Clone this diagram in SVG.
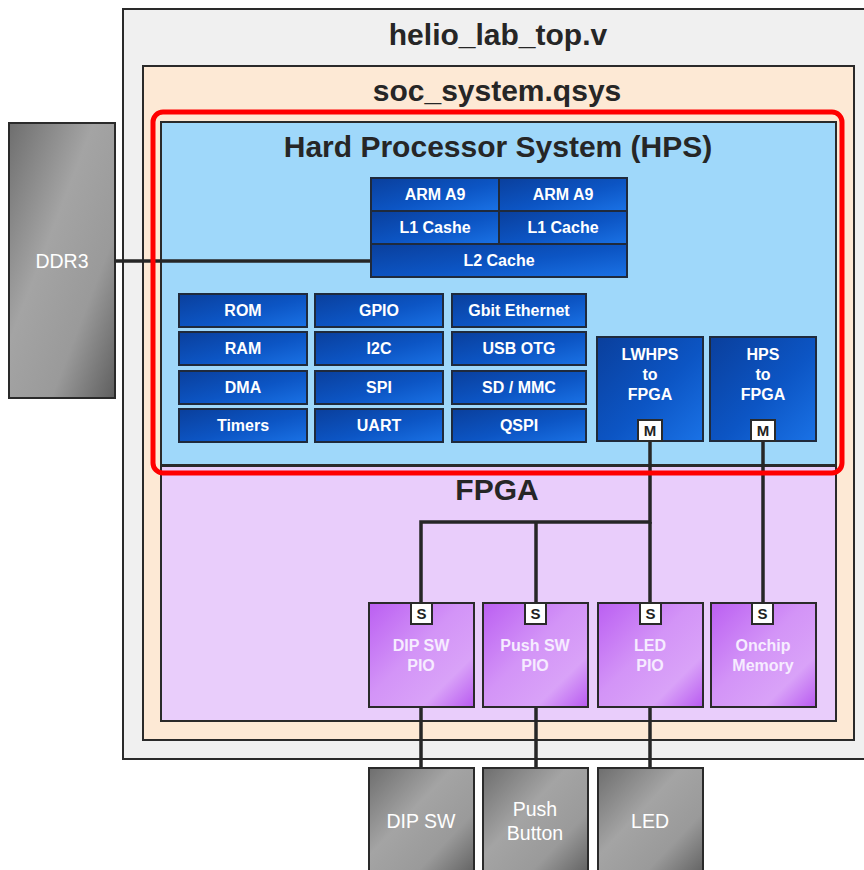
<svg xmlns="http://www.w3.org/2000/svg" width="864" height="870" viewBox="0 0 864 870">
<defs>
<linearGradient id="gBlue" x1="0" y1="0" x2="1" y2="1">
<stop offset="0" stop-color="#0a3f9c"/>
<stop offset="0.55" stop-color="#0c55c4"/>
<stop offset="1" stop-color="#1a72e6"/>
</linearGradient>
<linearGradient id="gPurple" x1="0" y1="0" x2="1" y2="1">
<stop offset="0" stop-color="#bb5ff2"/>
<stop offset="0.45" stop-color="#d394f7"/>
<stop offset="0.75" stop-color="#d9a2f8"/>
<stop offset="1" stop-color="#b85af0"/>
</linearGradient>
<linearGradient id="gGray" x1="0" y1="0" x2="1" y2="1">
<stop offset="0" stop-color="#6e6e6e"/>
<stop offset="0.4" stop-color="#a4a4a4"/>
<stop offset="0.7" stop-color="#9a9a9a"/>
<stop offset="1" stop-color="#5e5e5e"/>
</linearGradient>
<style>
.box{stroke:#2a2a2a;stroke-width:2}
.blk{fill:url(#gBlue);stroke:#1f2a3c;stroke-width:2}
.pio{fill:url(#gPurple);stroke:#2a2a2a;stroke-width:2}
.ext{fill:url(#gGray);stroke:#2a2a2a;stroke-width:2}
.port{fill:#ffffff;stroke:#2a2a2a;stroke-width:2}
.title{font-family:"Liberation Sans",Arial,sans-serif;font-weight:bold;font-size:30px;fill:#262626;text-anchor:middle}
.bt{font-family:"Liberation Sans",Arial,sans-serif;font-weight:bold;font-size:16px;fill:#ffffff;text-anchor:middle}
.pt{font-family:"Liberation Sans",Arial,sans-serif;font-weight:bold;font-size:16px;fill:#f6ecff;text-anchor:middle}
.et{font-family:"Liberation Sans",Arial,sans-serif;font-size:19.5px;fill:#ffffff;text-anchor:middle}
.mt{font-family:"Liberation Sans",Arial,sans-serif;font-weight:bold;font-size:15px;fill:#222222;text-anchor:middle}
.wire{fill:none;stroke:#262626;stroke-width:3.5}
</style>
</defs>
<rect width="864" height="870" fill="#ffffff"/>

<g id="helio_lab_top">
<rect class="box" x="123" y="9" width="750" height="750" fill="#f0f0f0"/>
<text class="title" x="498" y="45">helio_lab_top.v</text>
</g>
<g id="soc_system">
<rect class="box" x="143" y="66" width="711" height="674" fill="#fde9d5"/>
<text class="title" x="497" y="101">soc_system.qsys</text>
</g>
<g id="fpga">
<rect class="box" x="161" y="466" width="675" height="255" fill="#e9cdfb"/>
<text class="title" x="497" y="500">FPGA</text>
</g>
<g id="hps">
<rect class="box" x="161" y="122" width="675" height="343" fill="#9fd8fa"/>
<text class="title" x="498" y="157">Hard Processor System (HPS)</text>
</g>

<g id="connectors">
<line class="wire" x1="115" y1="261" x2="371" y2="261"/>
<polyline class="wire" points="650,441 650,522 421,522 421,603"/>
<line class="wire" x1="536" y1="522" x2="536" y2="603"/>
<line class="wire" x1="650" y1="522" x2="650" y2="603"/>
<line class="wire" x1="763" y1="441" x2="763" y2="603"/>
<line class="wire" x1="421" y1="707" x2="421" y2="768"/>
<line class="wire" x1="536" y1="707" x2="536" y2="768"/>
<line class="wire" x1="650" y1="707" x2="650" y2="768"/>
</g>

<g id="ddr3">
<rect class="ext" x="9" y="123" width="106" height="275"/>
<text class="et" x="62" y="268">DDR3</text>
</g>

<g id="cpu">
<rect class="blk" x="371" y="178" width="128" height="33"/>
<text class="bt" x="435" y="200">ARM A9</text>
<rect class="blk" x="499" y="178" width="128" height="33"/>
<text class="bt" x="563" y="200">ARM A9</text>
<rect class="blk" x="371" y="211" width="128" height="33"/>
<text class="bt" x="435" y="233">L1 Cashe</text>
<rect class="blk" x="499" y="211" width="128" height="33"/>
<text class="bt" x="563" y="233">L1 Cache</text>
<rect class="blk" x="371" y="244" width="256" height="33"/>
<text class="bt" x="499" y="266">L2 Cache</text>
</g>

<g id="rom"><rect class="blk" x="179" y="294" width="128" height="33"/><text class="bt" x="243" y="316">ROM</text></g>
<g id="ram"><rect class="blk" x="179" y="332" width="128" height="33"/><text class="bt" x="243" y="354">RAM</text></g>
<g id="dma"><rect class="blk" x="179" y="371" width="128" height="33"/><text class="bt" x="243" y="393">DMA</text></g>
<g id="timers"><rect class="blk" x="179" y="409" width="128" height="33"/><text class="bt" x="243" y="431">Timers</text></g>
<g id="gpio"><rect class="blk" x="315" y="294" width="128" height="33"/><text class="bt" x="379" y="316">GPIO</text></g>
<g id="i2c"><rect class="blk" x="315" y="332" width="128" height="33"/><text class="bt" x="379" y="354">I2C</text></g>
<g id="spi"><rect class="blk" x="315" y="371" width="128" height="33"/><text class="bt" x="379" y="393">SPI</text></g>
<g id="uart"><rect class="blk" x="315" y="409" width="128" height="33"/><text class="bt" x="379" y="431">UART</text></g>
<g id="gbit"><rect class="blk" x="452" y="294" width="134" height="33"/><text class="bt" x="519" y="316">Gbit Ethernet</text></g>
<g id="usb"><rect class="blk" x="452" y="332" width="134" height="33"/><text class="bt" x="519" y="354">USB OTG</text></g>
<g id="sdmmc"><rect class="blk" x="452" y="371" width="134" height="33"/><text class="bt" x="519" y="393">SD / MMC</text></g>
<g id="qspi"><rect class="blk" x="452" y="409" width="134" height="33"/><text class="bt" x="519" y="431">QSPI</text></g>

<g id="lwhps2fpga">
<rect class="blk" x="597" y="337" width="106" height="104"/>
<text class="bt" x="650" y="360">LWHPS</text>
<text class="bt" x="650" y="380">to</text>
<text class="bt" x="650" y="400">FPGA</text>
<rect class="port" x="638" y="420" width="24" height="21"/>
<text class="mt" x="650" y="436">M</text>
</g>
<g id="hps2fpga">
<rect class="blk" x="710" y="337" width="106" height="104"/>
<text class="bt" x="763" y="360">HPS</text>
<text class="bt" x="763" y="380">to</text>
<text class="bt" x="763" y="400">FPGA</text>
<rect class="port" x="751" y="420" width="24" height="21"/>
<text class="mt" x="763" y="436">M</text>
</g>

<g id="hps_highlight">
<rect x="153" y="112" width="689" height="361" rx="10" fill="none" stroke="#ff0000" stroke-width="5"/>
</g>

<g id="dipsw_pio">
<rect class="pio" x="369" y="603" width="105" height="104"/>
<rect class="port" x="411" y="603" width="21" height="21"/>
<text class="mt" x="421.5" y="619">S</text>
<text class="pt" x="421" y="651">DIP SW</text>
<text class="pt" x="421" y="671">PIO</text>
</g>
<g id="pushsw_pio">
<rect class="pio" x="483" y="603" width="105" height="104"/>
<rect class="port" x="525" y="603" width="21" height="21"/>
<text class="mt" x="535.5" y="619">S</text>
<text class="pt" x="535" y="651">Push SW</text>
<text class="pt" x="535" y="671">PIO</text>
</g>
<g id="led_pio">
<rect class="pio" x="598" y="603" width="105" height="104"/>
<rect class="port" x="640" y="603" width="21" height="21"/>
<text class="mt" x="650.5" y="619">S</text>
<text class="pt" x="650" y="651">LED</text>
<text class="pt" x="650" y="671">PIO</text>
</g>
<g id="onchip_memory">
<rect class="pio" x="711" y="603" width="105" height="104"/>
<rect class="port" x="752" y="603" width="21" height="21"/>
<text class="mt" x="762.5" y="619">S</text>
<text class="pt" x="763" y="651">Onchip</text>
<text class="pt" x="763" y="671">Memory</text>
</g>

<g id="dip_sw">
<rect class="ext" x="369" y="768" width="105" height="110"/>
<text class="et" x="421" y="828">DIP SW</text>
</g>
<g id="push_button">
<rect class="ext" x="483" y="768" width="105" height="110"/>
<text class="et" x="535" y="816">Push</text>
<text class="et" x="535" y="840">Button</text>
</g>
<g id="led">
<rect class="ext" x="598" y="768" width="105" height="110"/>
<text class="et" x="650" y="828">LED</text>
</g>
</svg>
